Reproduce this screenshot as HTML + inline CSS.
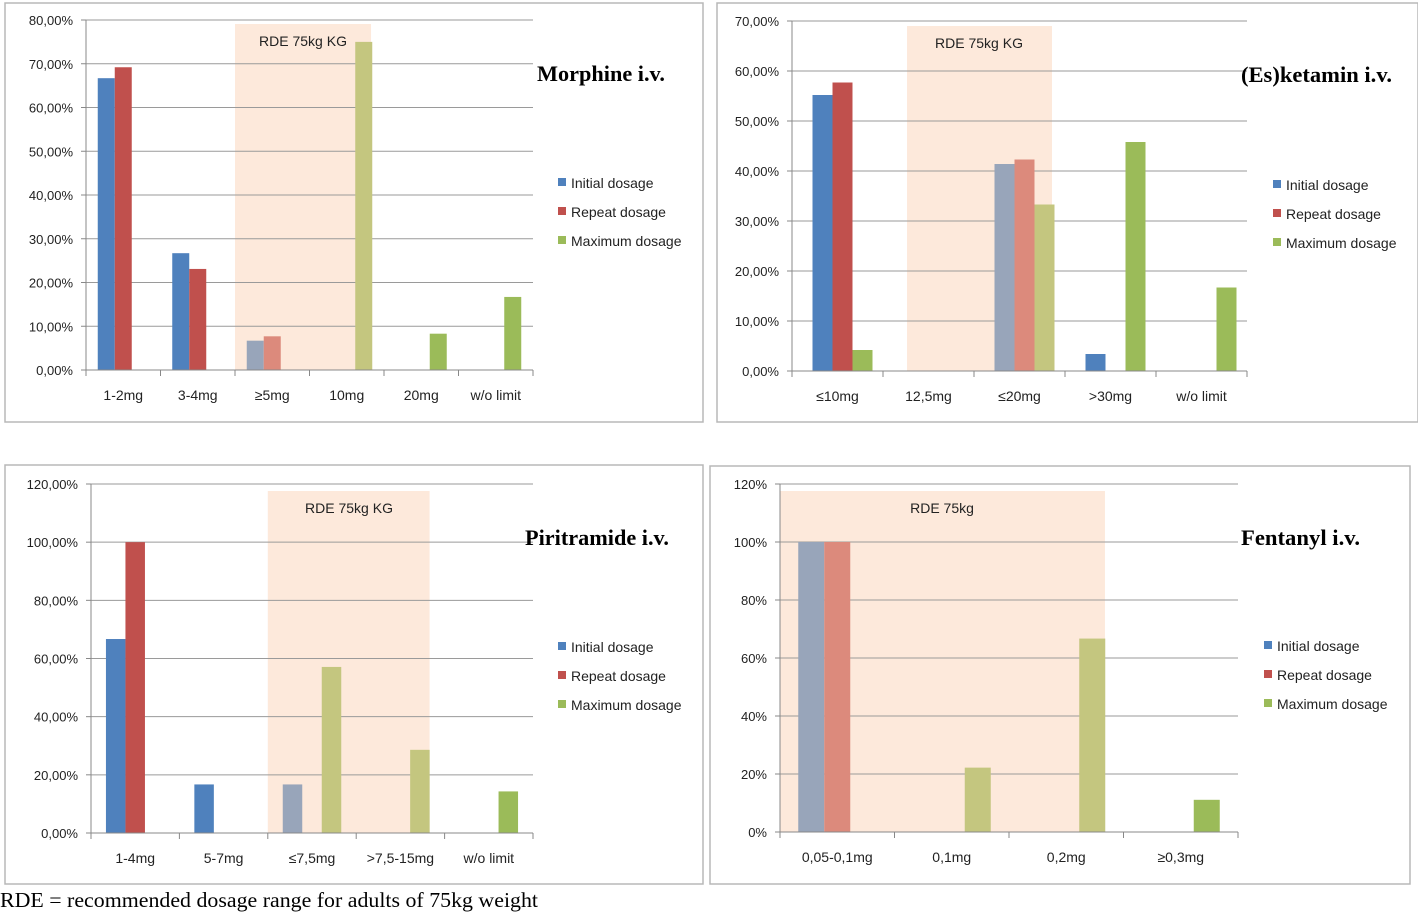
<!DOCTYPE html>
<html><head><meta charset="utf-8"><style>
body{margin:0;background:#fff;width:1418px;height:912px;overflow:hidden;font-family:"Liberation Sans",sans-serif}
svg text{font-family:"Liberation Sans",sans-serif}
</style></head><body>
<svg id="s" width="1418" height="912">
<text x="0" y="907" style="font-family:'Liberation Serif',serif" font-size="21" textLength="538" lengthAdjust="spacingAndGlyphs">RDE = recommended dosage range for adults of 75kg weight</text>
</svg>
<script>
// Morphine
const morCats=["1-2mg","3-4mg","≥5mg","10mg","20mg","w/o limit"];
const morInitial=[66.7,26.7,6.7,0,0,0];
const morRepeat=[69.2,23.1,7.7,0,0,0];
const morMax=[0,0,0,75,8.3,16.7];
const morTicks=["0,00%","10,00%","20,00%","30,00%","40,00%","50,00%","60,00%","70,00%","80,00%"];
// Ketamin
const ketCats=["≤10mg","12,5mg","≤20mg",">30mg","w/o limit"];
const ketInitial=[55.2,0,41.4,3.4,0];
const ketRepeat=[57.7,0,42.3,0,0];
const ketMax=[4.2,0,33.3,45.8,16.7];
const ketTicks=["0,00%","10,00%","20,00%","30,00%","40,00%","50,00%","60,00%","70,00%"];
// Piritramide
const pirCats=["1-4mg","5-7mg","≤7,5mg",">7,5-15mg","w/o limit"];
const pirInitial=[66.7,16.7,16.7,0,0];
const pirRepeat=[100,0,0,0,0];
const pirMax=[0,0,57.1,28.6,14.3];
const pirTicks=["0,00%","20,00%","40,00%","60,00%","80,00%","100,00%","120,00%"];
// Fentanyl
const fenCats=["0,05-0,1mg","0,1mg","0,2mg","≥0,3mg"];
const fenInitial=[100,0,0,0];
const fenRepeat=[100,0,0,0];
const fenMax=[0,22.2,66.7,11.1];
const fenTicks=["0%","20%","40%","60%","80%","100%","120%"];

const svg=document.getElementById('s');
const NS='http://www.w3.org/2000/svg';
function mk(tag,at,parent){const e=document.createElementNS(NS,tag);for(const k in at)e.setAttribute(k,at[k]);(parent||svg).appendChild(e);return e;}
const colors=["#4f81bd","#c0504d","#9bbb59"];
const muted=["#98a5ba","#dc8a7c","#c4c67f"];
const names=["Initial dosage","Repeat dosage","Maximum dosage"];

function chart(o){
  const g=mk('g',{});
  
  
  const fr=mk('rect',{x:o.frame[0],y:o.frame[1],width:o.frame[2],height:o.frame[3],fill:'none',stroke:'#b8b8b8','stroke-width':1.5},g);
  
  
  const n=o.cats.length, cw=(o.R-o.L)/n;
  const xc=i=>o.L+cw*i;
  const y=v=>o.B-(v/o.max)*(o.B-o.T);
  const sh=mk('rect',{x:xc(o.shade[0]),y:o.shadeTop,width:xc(o.shade[1])-xc(o.shade[0]),height:o.B-o.shadeTop,fill:'#fde9db'},g);
  
  
  const st=mk('text',{x:o.shadeLabelX,y:o.shadeTop+22,'font-size':14,fill:'#222','text-anchor':'middle'},g);
  st.textContent=o.shadeLabel;
  
  
  o.ticks.forEach((t,i)=>{
    const v=i*o.max/(o.ticks.length-1);
    if(i>0){const l=mk('line',{x1:o.L,x2:o.R,y1:y(v),y2:y(v),stroke:'#9a9a9a','stroke-width':1},g);
      }
    const tx=mk('text',{x:o.L-13,y:y(v)+5,'font-size':13,fill:'#222','text-anchor':'end'},g);
    tx.textContent=t;
    
    
    const tk=mk('line',{x1:o.L-5,x2:o.L,y1:y(v),y2:y(v),stroke:'#888'},g);
    
  });
  const ya=mk('line',{x1:o.L,x2:o.L,y1:o.T,y2:o.B,stroke:'#888'},g);
  
  const bw=o.bw;
  o.series.forEach((s,si)=>{
    s.forEach((v,ci)=>{
      if(v<=0)return;
      const cx=xc(ci)+cw/2+o.off;
      const x=cx-1.5*bw+si*bw;
      const m=o.mutedCats.includes(ci);
      const r=mk('rect',{x:x,y:y(v),width:bw,height:o.B-y(v),fill:m?muted[si]:colors[si]},g);
      
      
    });
  });
  const xa=mk('line',{x1:o.L,x2:o.R,y1:o.B,y2:o.B,stroke:'#888'},g);
  
  for(let i=0;i<=n;i++){const tk=mk('line',{x1:xc(i),x2:xc(i),y1:o.B,y2:o.B+6,stroke:'#888'},g);
    }
  o.cats.forEach((c,i)=>{
    const t=mk('text',{x:xc(i)+cw/2,y:o.B+30,'font-size':14,fill:'#222','text-anchor':'middle'},g);
    t.textContent=c;
    
    
  });
  const ti=mk('text',{x:o.titleX,y:o.titleY,'font-size':22,'font-weight':'bold',fill:'#000',textLength:o.titleW,lengthAdjust:'spacingAndGlyphs',style:"font-family:'Liberation Serif',serif"},g);
  ti.textContent=o.title;
  
  
  names.forEach((nm,i)=>{
    const yy=o.legY+i*29;
    const sq=mk('rect',{x:o.legX,y:yy-5,width:8,height:8,fill:colors[i]},g);
    
    const lt=mk('text',{x:o.legX+13,y:yy+5,'font-size':14,fill:'#222'},g);
    lt.textContent=nm;
    
    
  });
}
chart({id:'morphine',frame:[5,3,698,419],L:86,R:533,T:20,B:370,max:80,cats:morCats,ticks:morTicks,
  series:[morInitial,morRepeat,morMax],bw:17,off:0,shade:[2,3.826],shadeTop:24,shadeLabel:'RDE 75kg KG',shadeLabelX:303,
  mutedCats:[2,3],title:'Morphine i.v.',titleX:537,titleY:81,titleW:128,legX:558,legY:183});
chart({id:'ketamin',frame:[717,3,701,419],L:792,R:1247,T:21,B:371,max:70,cats:ketCats,ticks:ketTicks,
  series:[ketInitial,ketRepeat,ketMax],bw:20,off:5,shade:[1.264,2.857],shadeTop:26,shadeLabel:'RDE 75kg KG',shadeLabelX:979,
  mutedCats:[1,2],title:'(Es)ketamin i.v.',titleX:1241,titleY:82,titleW:151,legX:1273,legY:185});
chart({id:'piritramide',frame:[5,465,698,419],L:91,R:533,T:484,B:833,max:120,cats:pirCats,ticks:pirTicks,
  series:[pirInitial,pirRepeat,pirMax],bw:19.5,off:0,shade:[2.0,3.83],shadeTop:491,shadeLabel:'RDE 75kg KG',shadeLabelX:349,
  mutedCats:[2,3],title:'Piritramide i.v.',titleX:525,titleY:545,titleW:144,legX:558,legY:647});
chart({id:'fentanyl',frame:[710,466,700,418],L:780,R:1238,T:484,B:832,max:120,cats:fenCats,ticks:fenTicks,
  series:[fenInitial,fenRepeat,fenMax],bw:26,off:0,shade:[0,2.838],shadeTop:491,shadeLabel:'RDE 75kg',shadeLabelX:942,
  mutedCats:[0,1,2],title:'Fentanyl i.v.',titleX:1241,titleY:545,titleW:119,legX:1264,legY:646});
</script>
</body></html>
